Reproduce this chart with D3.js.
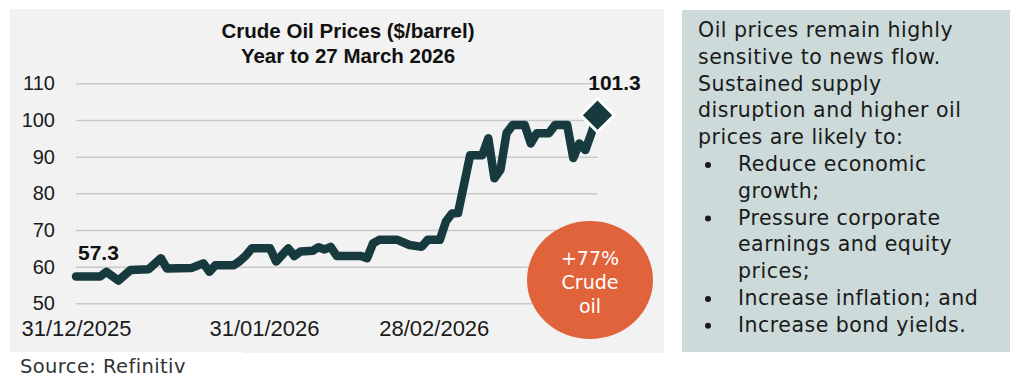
<!DOCTYPE html>
<html><head><meta charset="utf-8">
<script src="https://cdn.jsdelivr.net/npm/d3@7"></script>
<style>body{margin:0;background:#fff}svg{display:block}</style>
</head><body><svg id="c" width="1024" height="390"></svg>
<script>
const dates = ["2025-12-31","2026-01-04","2026-01-05","2026-01-07","2026-01-09","2026-01-12","2026-01-14","2026-01-15","2026-01-19","2026-01-21","2026-01-22","2026-01-23","2026-01-26","2026-01-27","2026-01-28","2026-01-29","2026-02-01","2026-02-02","2026-02-04","2026-02-05","2026-02-06","2026-02-08","2026-02-09","2026-02-10","2026-02-11","2026-02-12","2026-02-16","2026-02-17","2026-02-18","2026-02-19","2026-02-22","2026-02-24","2026-02-26","2026-02-27","2026-03-01","2026-03-02","2026-03-03","2026-03-04","2026-03-06","2026-03-08","2026-03-09","2026-03-10","2026-03-11","2026-03-12","2026-03-13","2026-03-15","2026-03-16","2026-03-17","2026-03-19","2026-03-20","2026-03-22","2026-03-23","2026-03-24","2026-03-25","2026-03-26","2026-03-27"];
const prices = [57.3,57.3,58.6,56.2,59.1,59.3,62.3,59.5,59.6,60.9,58.6,60.4,60.4,61.5,63.0,65.0,65.0,61.4,65.0,62.9,64.1,64.3,65.3,64.7,65.4,62.9,62.9,62.3,66.4,67.3,67.3,65.9,65.4,67.3,67.3,72.3,74.5,74.6,90.4,90.4,95.0,84.1,86.4,96.4,98.6,98.6,93.6,96.4,96.4,98.6,98.6,89.6,93.6,91.8,96.4,101.3];
const yTicks = [50,60,70,80,90,100,110];
const xTickDates = ["2025-12-31","2026-01-31","2026-02-28"];
const xTickLabels = ["31/12/2025","31/01/2026","28/02/2026"];
const titleLines = ["Crude Oil Prices ($/barrel)","Year to 27 March 2026"];
const bubbleLines = ["+77%","Crude","oil"];
const noteIntro = ["Oil prices remain highly","sensitive to news flow.","Sustained supply","disruption and higher oil","prices are likely to:"];
const noteBullets = [["Reduce economic","growth;"],["Pressure corporate","earnings and equity","prices;"],["Increase inflation; and"],["Increase bond yields."]];
const sourceText = "Source: Refinitiv";

const parse = d3.utcParse("%Y-%m-%d");
const data = dates.map((d,i)=>({date:parse(d), v:prices[i]}));
const svg = d3.select("#c");
const AR = "'Liberation Sans', Arial, sans-serif";
const MS = "'DejaVu Sans', sans-serif";
const ink = "#173a3f";

// panels
svg.append("rect").attr("x",10).attr("y",9).attr("width",654).attr("height",344).attr("fill","#f2f2f2");
svg.append("rect").attr("x",682).attr("y",10).attr("width",328).attr("height",342).attr("fill","#ccdad9");

const x = d3.scaleUtc().domain([parse("2025-12-31"), parse("2026-03-27")]).range([76, 597.5]);
const y = d3.scaleLinear().domain([50,110]).range([303.3, 83.3]);

// grid
const yAxis = d3.axisLeft(y).tickValues(yTicks).tickSize(-(597.5-76)).tickPadding(21).tickFormat(d3.format("d"));
const gy = svg.append("g").attr("transform","translate(76,0)").call(yAxis);
gy.select(".domain").remove();
gy.selectAll(".tick line").attr("stroke","#c9c9c9").attr("stroke-width",1.5);
gy.selectAll(".tick text").attr("font-family",AR).attr("font-size",20).attr("fill","#1a1a1a").attr("x",-21);

const xAxis = d3.axisBottom(x).tickValues(xTickDates.map(parse)).tickSize(0).tickPadding(0)
  .tickFormat((d,i)=>xTickLabels[i]);
const gx = svg.append("g").attr("transform","translate(0,336)").call(xAxis);
gx.select(".domain").remove();
gx.selectAll(".tick text").attr("font-family",AR).attr("font-size",22).attr("fill","#1a1a1a").attr("dy",0);

// title
svg.append("text").attr("text-anchor","middle").attr("font-family",AR).attr("font-weight","bold").attr("font-size",20.5).attr("fill","#111")
  .selectAll("tspan").data(titleLines).join("tspan").attr("x",348).attr("y",(d,i)=>38+i*25).text(d=>d);

// line
const line = d3.line().x(d=>x(d.date)).y(d=>y(d.v));
svg.append("path").datum(data).attr("d",line).attr("fill","none").attr("stroke",ink).attr("stroke-width",8.5)
  .attr("stroke-linejoin","round").attr("stroke-linecap","round");

// end marker
const last = data[data.length-1], first = data[0];
svg.append("path").attr("d",d3.symbol(d3.symbolSquare, 560)()).attr("transform",`translate(${x(last.date)},${y(last.v)}) rotate(45)`)
  .attr("fill",ink).attr("stroke","#fff").attr("stroke-width",3);
svg.append("text").attr("x",x(last.date)+17).attr("y",90).attr("text-anchor","middle").attr("font-family",AR).attr("font-weight","bold").attr("font-size",21).attr("fill","#111").text(last.v.toFixed(1));
svg.append("text").attr("x",x(first.date)+2).attr("y",260).attr("font-family",AR).attr("font-weight","bold").attr("font-size",21).attr("fill","#111").text(first.v.toFixed(1));

// bubble
svg.append("ellipse").attr("cx",590).attr("cy",280).attr("rx",63).attr("ry",59).attr("fill","#e1633b");
svg.append("text").attr("text-anchor","middle").attr("font-family",MS).attr("font-size",19).attr("fill","#fff")
  .selectAll("tspan").data(bubbleLines).join("tspan").attr("x",590).attr("y",(d,i)=>265+i*24).text(d=>d);

// source
svg.append("rect").attr("x",0).attr("y",352).attr("width",243).attr("height",38).attr("fill","#fff");
svg.append("text").attr("x",20).attr("y",373).attr("font-family",MS).attr("font-size",19.5).attr("letter-spacing",0.4).attr("fill","#333").text(sourceText);

// note
const lh = 26.8;
const note = svg.append("g").attr("font-family",MS).attr("font-size",20.5).attr("letter-spacing",0.5).attr("fill","#1a1a1a");
noteIntro.forEach((t,i)=>note.append("text").attr("x",698).attr("y",37+i*lh).text(t));
let row = noteIntro.length;
noteBullets.forEach(b=>{
  note.append("circle").attr("cx",708).attr("cy",37+row*lh-6).attr("r",3).attr("fill","#1a1a1a");
  b.forEach(t=>{ note.append("text").attr("x",738).attr("y",37+row*lh).text(t); row++; });
});
</script></body></html>
